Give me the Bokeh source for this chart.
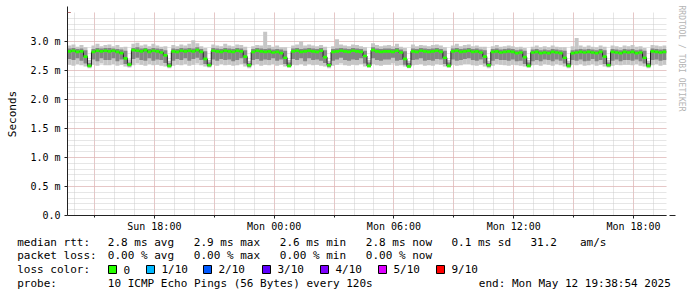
import pandas as pd
from bokeh.plotting import figure
from bokeh.layouts import column
from bokeh.core.properties import value
from bokeh.models import (FixedTicker, CustomJSTickFormatter, DatetimeTickFormatter,
                          Arrow, NormalHead, ColumnDataSource, Range1d, Title)
from bokeh.embed import file_html
from bokeh.resources import INLINE

# ---------------- data (milliseconds) ----------------
start = pd.Timestamp("2025-05-11 13:39")
end = pd.Timestamp("2025-05-12 19:39")
bin_minutes = 12

median = [
    2.83, 2.84, 2.82, 2.83, 2.74, 2.58, 2.82, 2.84, 2.83, 2.84,
    2.83, 2.84, 2.82, 2.80, 2.71, 2.60, 2.85, 2.84, 2.83, 2.85,
    2.82, 2.84, 2.83, 2.81, 2.76, 2.58, 2.83, 2.82, 2.84, 2.83,
    2.84, 2.83, 2.85, 2.82, 2.70, 2.59, 2.84, 2.83, 2.82, 2.84,
    2.83, 2.82, 2.84, 2.83, 2.74, 2.59, 2.82, 2.84, 2.83, 2.82,
    2.83, 2.81, 2.82, 2.80, 2.72, 2.58, 2.83, 2.84, 2.82, 2.83,
    2.84, 2.83, 2.82, 2.84, 2.73, 2.59, 2.82, 2.83, 2.84, 2.83,
    2.82, 2.84, 2.83, 2.82, 2.75, 2.58, 2.85, 2.83, 2.82, 2.83,
    2.83, 2.82, 2.84, 2.81, 2.70, 2.57, 2.83, 2.82, 2.84, 2.83,
    2.82, 2.83, 2.84, 2.82, 2.72, 2.58, 2.83, 2.84, 2.82, 2.83,
    2.84, 2.82, 2.83, 2.81, 2.74, 2.59, 2.82, 2.83, 2.81, 2.82,
    2.83, 2.82, 2.80, 2.81, 2.73, 2.58, 2.81, 2.82, 2.80, 2.81,
    2.80, 2.82, 2.81, 2.80, 2.72, 2.58, 2.80, 2.81, 2.82, 2.81,
    2.82, 2.81, 2.80, 2.82, 2.74, 2.59, 2.82, 2.81, 2.80, 2.82,
    2.81, 2.82, 2.80, 2.81, 2.72, 2.58, 2.83, 2.82, 2.81, 2.82,
]

out_lo = [
    2.60, 2.58, 2.61, 2.59, 2.57, 2.54, 2.60, 2.58, 2.62, 2.59,
    2.59, 2.61, 2.58, 2.60, 2.57, 2.55, 2.59, 2.62, 2.60, 2.58,
    2.61, 2.59, 2.60, 2.58, 2.57, 2.54, 2.58, 2.60, 2.59, 2.61,
    2.58, 2.60, 2.62, 2.59, 2.57, 2.55, 2.60, 2.58, 2.61, 2.59,
    2.60, 2.58, 2.59, 2.61, 2.57, 2.54, 2.59, 2.61, 2.58, 2.60,
    2.59, 2.61, 2.58, 2.60, 2.57, 2.55, 2.60, 2.59, 2.61, 2.58,
    2.61, 2.59, 2.60, 2.58, 2.57, 2.54, 2.58, 2.60, 2.62, 2.59,
    2.58, 2.60, 2.59, 2.61, 2.57, 2.55, 2.61, 2.59, 2.58, 2.60,
    2.60, 2.62, 2.58, 2.59, 2.57, 2.54, 2.59, 2.60, 2.61, 2.58,
    2.59, 2.58, 2.61, 2.60, 2.57, 2.55, 2.60, 2.58, 2.59, 2.61,
    2.61, 2.59, 2.58, 2.60, 2.57, 2.54, 2.58, 2.61, 2.60, 2.59,
    2.58, 2.60, 2.59, 2.58, 2.57, 2.55, 2.59, 2.60, 2.58, 2.61,
    2.60, 2.58, 2.61, 2.59, 2.57, 2.54, 2.60, 2.59, 2.61, 2.58,
    2.59, 2.61, 2.58, 2.60, 2.57, 2.55, 2.58, 2.60, 2.59, 2.60,
    2.60, 2.59, 2.61, 2.58, 2.57, 2.54, 2.59, 2.61, 2.58, 2.60,
]

in_lo = [
    2.70, 2.68, 2.71, 2.67, 2.62, 2.56, 2.69, 2.66, 2.71, 2.68,
    2.68, 2.71, 2.66, 2.69, 2.61, 2.57, 2.70, 2.72, 2.68, 2.67,
    2.71, 2.67, 2.69, 2.68, 2.63, 2.56, 2.67, 2.70, 2.68, 2.71,
    2.67, 2.70, 2.72, 2.68, 2.61, 2.57, 2.69, 2.67, 2.70, 2.68,
    2.69, 2.66, 2.68, 2.71, 2.62, 2.56, 2.68, 2.70, 2.67, 2.69,
    2.68, 2.71, 2.67, 2.69, 2.61, 2.57, 2.70, 2.68, 2.71, 2.66,
    2.71, 2.68, 2.69, 2.67, 2.63, 2.56, 2.67, 2.69, 2.72, 2.68,
    2.67, 2.69, 2.68, 2.71, 2.62, 2.57, 2.71, 2.68, 2.67, 2.69,
    2.69, 2.72, 2.67, 2.68, 2.60, 2.56, 2.68, 2.69, 2.71, 2.67,
    2.68, 2.67, 2.70, 2.69, 2.61, 2.57, 2.69, 2.67, 2.68, 2.70,
    2.71, 2.68, 2.67, 2.69, 2.62, 2.56, 2.67, 2.70, 2.68, 2.68,
    2.67, 2.69, 2.66, 2.67, 2.61, 2.57, 2.66, 2.68, 2.66, 2.69,
    2.68, 2.66, 2.69, 2.67, 2.62, 2.56, 2.68, 2.67, 2.69, 2.66,
    2.67, 2.70, 2.66, 2.68, 2.61, 2.57, 2.67, 2.69, 2.66, 2.68,
    2.68, 2.67, 2.69, 2.66, 2.62, 2.56, 2.68, 2.69, 2.67, 2.68,
]

in_hi = [
    2.88, 2.89, 2.87, 2.88, 2.85, 2.63, 2.87, 2.89, 2.88, 2.89,
    2.89, 2.88, 2.87, 2.86, 2.84, 2.64, 2.89, 2.90, 2.88, 2.89,
    2.87, 2.89, 2.88, 2.87, 2.85, 2.63, 2.88, 2.87, 2.89, 2.88,
    2.89, 2.88, 2.90, 2.87, 2.83, 2.64, 2.89, 2.88, 2.87, 2.89,
    2.88, 2.87, 2.89, 2.88, 2.85, 2.63, 2.87, 2.89, 2.88, 2.87,
    2.88, 2.86, 2.87, 2.86, 2.84, 2.64, 2.88, 2.89, 2.87, 2.88,
    2.89, 2.88, 2.87, 2.89, 2.85, 2.63, 2.87, 2.88, 2.89, 2.88,
    2.87, 2.89, 2.88, 2.87, 2.84, 2.64, 2.90, 2.88, 2.87, 2.88,
    2.88, 2.87, 2.89, 2.86, 2.83, 2.63, 2.88, 2.87, 2.89, 2.88,
    2.87, 2.88, 2.89, 2.87, 2.84, 2.64, 2.88, 2.89, 2.87, 2.88,
    2.89, 2.87, 2.88, 2.86, 2.85, 2.63, 2.87, 2.88, 2.86, 2.87,
    2.88, 2.87, 2.85, 2.86, 2.84, 2.64, 2.86, 2.87, 2.85, 2.86,
    2.85, 2.87, 2.86, 2.85, 2.84, 2.63, 2.85, 2.86, 2.87, 2.86,
    2.87, 2.86, 2.85, 2.87, 2.85, 2.64, 2.87, 2.86, 2.85, 2.87,
    2.86, 2.87, 2.85, 2.86, 2.84, 2.63, 2.88, 2.87, 2.86, 2.87,
]

out_hi = [
    2.93, 2.95, 2.91, 2.94, 2.90, 2.68, 2.93, 2.96, 2.92, 2.94,
    2.95, 2.92, 2.94, 2.90, 2.91, 2.69, 2.96, 2.98, 2.93, 2.95,
    2.92, 2.96, 2.93, 2.91, 2.92, 2.67, 2.94, 2.92, 2.95, 2.93,
    2.96, 3.02, 2.97, 2.92, 2.89, 2.68, 2.95, 2.93, 2.92, 2.96,
    2.93, 2.92, 2.95, 2.94, 2.91, 2.67, 2.92, 2.94, 2.93, 3.17,
    2.94, 2.91, 2.93, 2.90, 2.90, 2.68, 2.93, 2.95, 3.00, 2.93,
    2.95, 2.93, 2.92, 2.94, 2.91, 2.67, 2.92, 3.04, 2.95, 2.93,
    2.92, 2.95, 2.94, 2.92, 2.90, 2.68, 2.97, 2.94, 2.92, 2.93,
    2.94, 2.92, 2.96, 2.91, 2.89, 2.67, 2.95, 2.92, 2.94, 2.93,
    2.92, 2.94, 2.95, 2.93, 2.90, 2.68, 2.93, 2.96, 2.92, 2.94,
    2.95, 2.92, 2.93, 2.91, 2.91, 2.67, 2.92, 2.94, 2.91, 2.92,
    2.93, 2.92, 2.90, 2.91, 2.89, 2.68, 2.91, 2.93, 2.90, 2.92,
    2.90, 2.93, 2.91, 2.90, 2.90, 2.67, 2.92, 3.06, 2.93, 2.91,
    2.93, 2.91, 2.90, 2.93, 2.91, 2.68, 2.93, 2.92, 2.90, 2.93,
    2.92, 2.94, 2.91, 2.92, 2.89, 2.67, 2.94, 2.93, 2.92, 2.93,
]

y_ticks = [0.0, 0.5, 1.0, 1.5, 2.0, 2.5, 3.0]
label_hours = ["2025-05-11 18:00", "2025-05-12 00:00", "2025-05-12 06:00",
               "2025-05-12 12:00", "2025-05-12 18:00"]

legend_line1 = [("median rtt:", 16.7), ("2.8 ms avg", 107.3), ("2.9 ms max", 193.3),
                ("2.6 ms min", 279.3), ("2.8 ms now", 365.3), ("0.1 ms sd", 451),
                ("31.2", 530), ("am/s", 579.5)]
legend_line2 = [("packet loss:", 16.7), ("0.00 % avg", 107.3), ("0.00 % max", 193.3),
                ("0.00 % min", 279.3), ("0.00 % now", 365.3)]
loss_labels = ["0", "1/10", "2/10", "3/10", "4/10", "5/10", "9/10"]
loss_colors = ["#26ff00", "#00b8ff", "#0059ff", "#5e00ff", "#7e00ff", "#dd00ff", "#ff0000"]
loss_box_x = [108, 146, 203, 262, 320, 378, 436]
probe_text = "10 ICMP Echo Pings (56 Bytes) every 120s"
end_text = "end: Mon May 12 19:38:54 2025"
watermark = "RRDTOOL / TOBI OETIKER"

# ---------------- layout constants ----------------
FONT = "DejaVu Sans Mono"
W = 697
H1 = 236                      # chart part
H2 = 297 - H1                 # legend part
FL, FR, FT, FB = 67, 667, 12, 215

n = len(median)
t0 = pd.date_range(start, periods=n, freq=f"{bin_minutes}min")
t1 = t0 + pd.Timedelta(minutes=bin_minutes)
swidth = 0.023
src = ColumnDataSource(dict(
    t0=t0, t1=t1, median=median, out_lo=out_lo, out_hi=out_hi, in_lo=in_lo, in_hi=in_hi,
    g_lo=[m - swidth for m in median], g_hi=[m + swidth for m in median],
))

p = figure(width=W, height=H1, x_axis_type="datetime", output_backend="svg",
           toolbar_location=None, x_range=Range1d(start, end), y_range=Range1d(0, 3.5),
           min_border_left=FL, min_border_right=W - FR, min_border_top=FT,
           min_border_bottom=H1 - FB)
p.frame_align = False
p.background_fill_color = "white"
p.border_fill_color = "white"
p.outline_line_color = None

# grids
hours1 = list(pd.date_range("2025-05-11 14:00", "2025-05-12 19:00", freq="1h"))
hours3 = list(pd.date_range("2025-05-11 15:00", "2025-05-12 18:00", freq="3h"))
hours6 = [pd.Timestamp(s) for s in label_hours]
to_ms = lambda ts: ts.value / 1e6
MAJ, MIN = "#e7a9a9", "#cdcdcd"
p.xgrid.ticker = FixedTicker(ticks=[to_ms(t) for t in hours3], minor_ticks=[to_ms(t) for t in hours1])
p.ygrid.ticker = FixedTicker(ticks=[0.5, 1.0, 1.5, 2.0, 2.5, 3.0, 3.5],
                             minor_ticks=[i / 10 for i in range(1, 36)])
for g in (p.xgrid[0], p.ygrid[0]):
    g.grid_line_color = MAJ
    g.grid_line_dash = "1 1"
    g.minor_grid_line_color = MIN
    g.minor_grid_line_dash = "1 1"

# smoke
p.quad(left="t0", right="t1", bottom="out_lo", top="out_hi", source=src,
       fill_color="#c6c6c6", line_color=None)
p.quad(left="t0", right="t1", bottom="in_lo", top="in_hi", source=src,
       fill_color="#858585", line_color=None)
# median
p.step(x=list(t0) + [t1[-1]], y=median + [median[-1]], mode="after",
       line_color="#202020", line_width=1)
p.quad(left="t0", right="t1", bottom="g_lo", top="g_hi", source=src,
       fill_color=loss_colors[0], line_color=None)

# axes
AX = "#222222"
p.xaxis.ticker = FixedTicker(ticks=[to_ms(t) for t in hours6], minor_ticks=[to_ms(t) for t in hours3])
p.xaxis.formatter = DatetimeTickFormatter(hours="%a %H:%M", days="%a %H:%M", hourmin="%a %H:%M")
p.yaxis.ticker = FixedTicker(ticks=y_ticks)
p.yaxis.formatter = CustomJSTickFormatter(code="return tick == 0 ? '0.0' : tick.toFixed(1) + ' m';")
for ax in (p.xaxis[0], p.yaxis[0]):
    ax.axis_line_color = AX
    ax.major_tick_line_color = AX
    ax.minor_tick_line_color = AX
    ax.major_tick_in = 0
    ax.minor_tick_in = 0
    ax.major_label_text_font = FONT
    ax.major_label_text_font_size = "10px"
    ax.major_label_text_color = "#000000"
p.xaxis.major_tick_out = 3
p.xaxis.minor_tick_out = 2
p.xaxis.major_label_standoff = 2
p.yaxis.major_tick_out = 3
p.yaxis.minor_tick_out = 0
p.yaxis.major_label_standoff = 4
p.yaxis.axis_label = "Seconds"
p.yaxis.axis_label_text_font = FONT
p.yaxis.axis_label_text_font_size = "11px"
p.yaxis.axis_label_text_font_style = "normal"
p.yaxis.axis_label_text_color = "#000000"
p.yaxis.axis_label_standoff = 8

# arrows
ARROW = "#8b1a1a"
p.add_layout(Arrow(x_start=0, y_start=FB - FT - 2, x_end=0, y_end=FB - FT + 6,
                   start_units="screen", end_units="screen", line_color=AX, line_width=1,
                   end=NormalHead(size=6, fill_color=ARROW, line_color=ARROW)))
p.add_layout(Arrow(x_start=FR - FL - 2, y_start=0, x_end=FR - FL + 8, y_end=0,
                   start_units="screen", end_units="screen", line_color=AX, line_width=1,
                   end=NormalHead(size=6, fill_color=ARROW, line_color=ARROW)))

# watermark on the right side
p.add_layout(Title(text=watermark, text_font=FONT, text_font_size="8px",
                   text_color="#b4b4b4", text_font_style="normal", align="left",
                   standoff=20, offset=-7), "right")

# ---------------- legend part ----------------
q = figure(width=W, height=H2, output_backend="svg", toolbar_location=None,
           x_range=Range1d(0, W), y_range=Range1d(H2, 0),
           min_border_left=0, min_border_right=0, min_border_top=0, min_border_bottom=0)
q.frame_align = False
q.axis.visible = False
q.grid.visible = False
q.outline_line_color = None
q.background_fill_color = "white"
q.border_fill_color = "white"

rows_y = [241.5, 255.3, 269.3, 283.3]
tx, ty, tt = [], [], []
for txt, x in legend_line1:
    tx.append(x); ty.append(rows_y[0] - H1); tt.append(txt)
for txt, x in legend_line2:
    tx.append(x); ty.append(rows_y[1] - H1); tt.append(txt)
tx.append(16.7); ty.append(rows_y[2] - H1); tt.append("loss color:")
for txt, bx in zip(loss_labels, loss_box_x):
    tx.append(bx + 15); ty.append(rows_y[2] - H1); tt.append(txt)
for txt, x in [("probe:", 16.7), (probe_text, 107.3), (end_text, 478.3)]:
    tx.append(x); ty.append(rows_y[3] - H1); tt.append(txt)

q.text(x=tx, y=ty, text=tt, text_font=value(FONT), text_font_size=value("11px"),
       text_color="#000000", text_baseline="middle", text_align="left")
q.quad(left=loss_box_x, right=[b + 8 for b in loss_box_x],
       top=[265 - H1] * len(loss_box_x), bottom=[273 - H1] * len(loss_box_x),
       fill_color=loss_colors, line_color="#000000", line_width=1)

layout = column(p, q, spacing=0)
open("out.html", "w").write(file_html(layout, INLINE))
